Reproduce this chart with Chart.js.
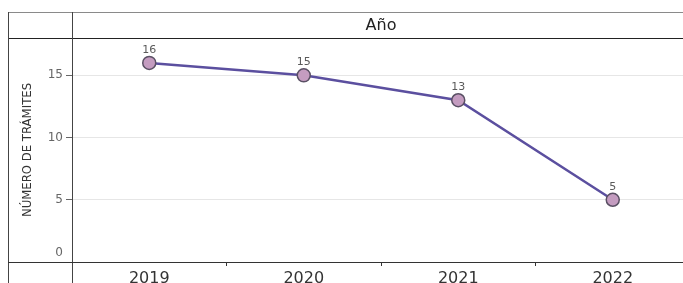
<!DOCTYPE html>
<html>
<head>
<meta charset="utf-8">
<script src="https://cdn.jsdelivr.net/npm/chart.js@4/dist/chart.umd.min.js"></script>
<style>
html,body{margin:0;padding:0;background:#fff;overflow:hidden;width:683px;height:283px;}
#wrap{position:absolute;left:0;top:0;width:700px;height:283px;}
</style>
</head>
<body>
<div id="wrap"><canvas id="c" width="700" height="283"></canvas></div>
<script>
const categories = ['2019', '2020', '2021', '2022'];
const tramites = [16, 15, 13, 5];
const yTicks = [0, 5, 10, 15];
const headerText = 'Año';
const yTitle = 'NÚMERO DE TRÁMITES';

const framePlugin = {
  id: 'frame',
  afterDraw(chart) {
    const ctx = chart.ctx;
    const a = chart.chartArea;
    const W = chart.width, H = chart.height;
    ctx.save();
    ctx.lineWidth = 1;
    ctx.strokeStyle = '#8a8a8a';
    ctx.beginPath(); ctx.moveTo(8, 12.5); ctx.lineTo(W, 12.5); ctx.stroke();
    ctx.strokeStyle = '#222';
    ctx.beginPath(); ctx.moveTo(8, Math.round(a.top) + 0.5); ctx.lineTo(W, Math.round(a.top) + 0.5); ctx.stroke();
    ctx.strokeStyle = '#444';
    ctx.beginPath(); ctx.moveTo(8.5, 12); ctx.lineTo(8.5, H); ctx.stroke();
    ctx.beginPath(); ctx.moveTo(Math.round(a.left) + 0.5, 12); ctx.lineTo(Math.round(a.left) + 0.5, H); ctx.stroke();
    ctx.strokeStyle = '#333';
    ctx.beginPath(); ctx.moveTo(8, Math.round(a.bottom) + 0.5); ctx.lineTo(W, Math.round(a.bottom) + 0.5); ctx.stroke();
    ctx.fillStyle = '#222';
    ctx.font = '16px "DejaVu Sans"';
    ctx.textAlign = 'center';
    ctx.textBaseline = 'middle';
    ctx.fillText(headerText, (a.left + a.right) / 2, 26);
    const ys = chart.scales.y;
    ctx.fillStyle = '#666';
    ctx.font = '12px "DejaVu Sans"';
    ctx.textAlign = 'right';
    ctx.fillText(String(yTicks[0]), a.left - 9, ys.getPixelForValue(yTicks[0]) - 9);
    const meta = chart.getDatasetMeta(0);
    ctx.fillStyle = '#5a5a5a';
    ctx.font = '11px "DejaVu Sans"';
    ctx.textAlign = 'center';
    meta.data.forEach((pt, i) => {
      ctx.fillText(String(tramites[i]), pt.x, pt.y - 13);
    });
    ctx.restore();
  }
};

new Chart(document.getElementById('c'), {
  type: 'line',
  data: {
    labels: categories,
    datasets: [{
      data: tramites,
      borderColor: '#5b4f9f',
      borderWidth: 2.5,
      tension: 0,
      pointRadius: 6.5,
      pointHoverRadius: 6.5,
      pointBackgroundColor: '#c49cc0',
      pointBorderColor: '#5a5064',
      pointBorderWidth: 1.5,
      fill: false
    }]
  },
  options: {
    responsive: false,
    devicePixelRatio: 1,
    animation: false,
    events: [],
    layout: { padding: { left: 0, top: 38, right: 10, bottom: 0 } },
    plugins: { legend: { display: false }, tooltip: { enabled: false } },
    scales: {
      x: {
        type: 'category',
        offset: true,
        border: { display: false },
        grid: { offset: true, drawOnChartArea: false, drawTicks: true, tickLength: 4, tickColor: '#333' },
        ticks: { color: '#333', font: { family: 'DejaVu Sans', size: 16 }, padding: 3, maxRotation: 0 },
        afterFit(s) { s.height = 21; }
      },
      y: {
        min: 0,
        max: 18,
        border: { display: false },
        afterBuildTicks(s) { s.ticks = yTicks.map(v => ({ value: v })); },
        grid: {
          color: c => (c.tick && c.tick.value === 0) ? 'rgba(0,0,0,0)' : '#e6e6e6',
          tickColor: c => (c.tick && c.tick.value === 0) ? 'rgba(0,0,0,0)' : '#666',
          tickLength: 6,
          lineWidth: 1
        },
        ticks: {
          color: '#666',
          font: { family: 'DejaVu Sans', size: 12 },
          padding: 3,
          callback: v => v === 0 ? '' : String(v)
        },
        title: {
          display: true,
          text: yTitle,
          color: '#333',
          font: { family: '"Liberation Sans Narrow", "DejaVu Sans Condensed", "Liberation Sans"', size: 13 },
          padding: { top: 20, bottom: 0 }
        },
        afterFit(s) { s.width = 72; }
      }
    }
  },
  plugins: [framePlugin]
});
</script>
</body>
</html>
